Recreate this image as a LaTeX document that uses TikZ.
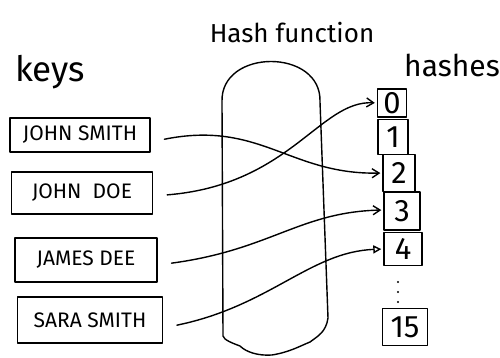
\documentclass[tikz,border=0pt]{standalone}
\usepackage{fontspec}
\setmainfont{Fira Sans}
\usetikzlibrary{arrows.meta,decorations.pathmorphing}
\begin{document}
\begin{tikzpicture}[x=1pt,y=-1pt,
  pen/.style={line width=1.4pt,black,line cap=round,line join=round},
  keybox/.style={pen,draw,inner sep=0pt,font=\fontsize{21}{22}\selectfont},
  hashbox/.style={pen,draw,inner sep=0pt,font=\fontsize{31}{31}\selectfont},
  title/.style={inner sep=0pt},
  link/.style={pen,-{Straight Barb[length=7pt,width=9pt]},shorten <=14pt,shorten >=2pt},
  link2/.style={pen,-{Triangle[open,length=8pt,width=8pt]},shorten <=14pt,shorten >=2pt}]
\useasboundingbox (0,0) rectangle (500,358);
% titles
\node[title,font=\fontsize{26}{26}\selectfont] (hf) at (292,33) {Hash function};
\node[title,font=\fontsize{35}{35}\selectfont] (keys) at (50,72) {keys};
\node[title,font=\fontsize{30}{30}\selectfont] (hashes) at (452,65) {hashes};
% hash function body
\draw[pen] (223,336) -- (222,102) .. controls (220,48) and (322,48) .. (320,102)
  -- (328,318) .. controls (326,332) and (318,336) .. (310,342)
  .. controls (300,346) and (290,352) .. (272,355)
  .. controls (258,356) and (246,352) .. (240,346)
  .. controls (232,343) and (224,340) .. (223,336);
% keys
\node[keybox,minimum width=140pt,minimum height=34pt] (k1) at (80,135) {JOHN SMITH};
\node[keybox,minimum width=141pt,minimum height=42pt] (k2) at (82,193) {JOHN\ \ DOE};
\node[keybox,minimum width=142pt,minimum height=44pt] (k3) at (86,260) {JAMES DEE};
\node[keybox,minimum width=145pt,minimum height=46pt] (k4) at (90,320) {SARA SMITH};
% hashes
\node[hashbox,minimum width=29pt,minimum height=28pt] (h0) at (392,103) {0};
\node[hashbox,minimum width=30pt,minimum height=35pt] (h1) at (393,137) {1};
\node[hashbox,minimum width=32pt,minimum height=37pt] (h2) at (399,173) {2};
\node[hashbox,minimum width=36pt,minimum height=38pt] (h3) at (402,211) {3};
\node[hashbox,minimum width=38pt,minimum height=33pt] (h4) at (403,249) {4};
\node[hashbox,minimum width=45pt,minimum height=37pt] (h15) at (405,327) {15};
\foreach \yy in {282,292,302} \fill (398,\yy) circle (1.1pt);
% connectors
\draw[link] ([yshift=-7pt]k1.east) .. controls (260,120) and (290,175) .. (h2.west);
\draw[link] ([yshift=-3pt]k2.east) .. controls (290,185) and (320,100) .. (h0.west);
\draw[link] ([yshift=-5pt]k3.east) .. controls (270,250) and (300,212) .. ([yshift=1pt]h3.west);
\draw[link2] ([yshift=-8pt]k4.east) .. controls (270,306) and (310,252) .. (h4.west);
\end{tikzpicture}
\end{document}
